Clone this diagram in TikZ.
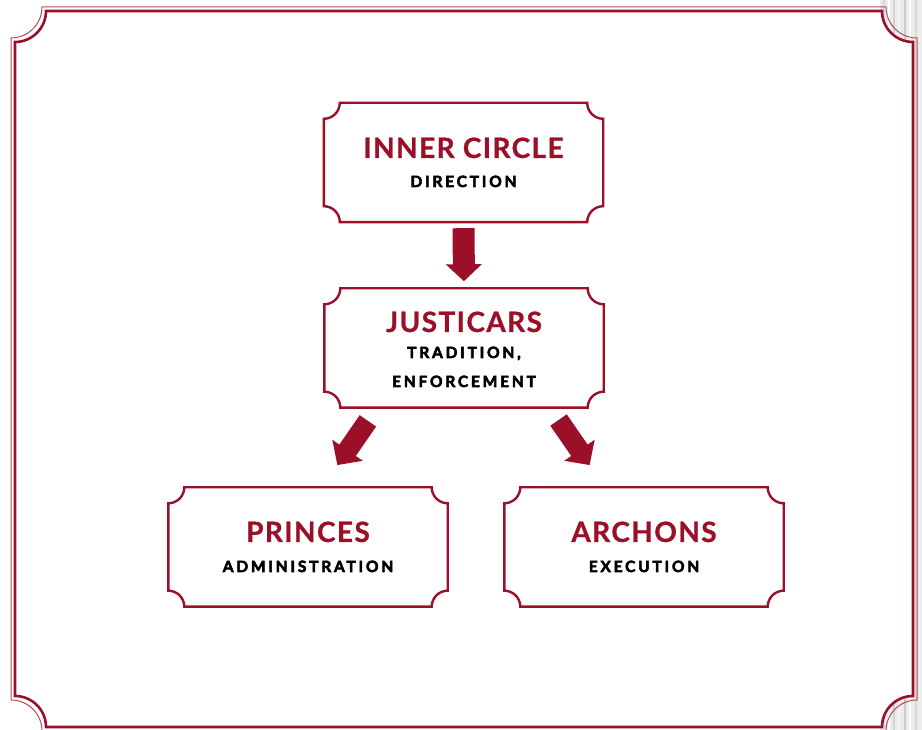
\documentclass[tikz,border=0pt]{standalone}
\usepackage{fontspec}
\setmainfont{Lato}
\newfontfamily\subfnt[LetterSpace=18,FakeBold=3.5]{Lato}
\newfontfamily\ttlfnt[LetterSpace=5,FakeBold=0.8]{Lato}
\usetikzlibrary{arrows.meta,calc}
\definecolor{vred}{HTML}{9B1028}
\tikzset{
  ticket/.style={minimum width=279pt, minimum height=119pt, inner sep=0pt, draw=none},
  boxline/.style={draw=vred, line width=2.4pt, fill=white},
  ttl/.style={anchor=base, text=vred, font=\ttlfnt\fontsize{28}{30}\selectfont\bfseries},
  subt/.style={anchor=base, text=black, font=\subfnt\fontsize{15.5}{16}\selectfont\bfseries},
  bigarrow/.style={draw=vred, line width=21pt, -{Triangle[length=17pt,width=36pt]}},
  framethick/.style={draw=vred, line width=2.6pt, fill=white},
  framethin/.style={draw=vred!75, line width=1pt},
}
\newcommand\ticketborder[1]{%
  \draw[boxline] ([xshift=16pt]#1.north west) -- ([xshift=-16pt]#1.north east)
    arc[start angle=180,end angle=270,radius=16pt]
    -- ([yshift=16pt]#1.south east)
    arc[start angle=90,end angle=180,radius=16pt]
    -- ([xshift=16pt]#1.south west)
    arc[start angle=0,end angle=90,radius=16pt]
    -- ([yshift=-16pt]#1.north west)
    arc[start angle=270,end angle=360,radius=16pt] -- cycle;}
\newcommand\scallopframe[6]{%
  \draw[#1] (#2+#6,#5) -- (#4-#6,#5)
    arc[start angle=180,end angle=270,radius=#6 pt]
    -- (#4,#3+#6)
    arc[start angle=90,end angle=180,radius=#6 pt]
    -- (#2+#6,#3)
    arc[start angle=0,end angle=90,radius=#6 pt]
    -- (#2,#5-#6)
    arc[start angle=270,end angle=360,radius=#6 pt] -- cycle;}
\begin{document}
\begin{tikzpicture}[x=1pt,y=1pt]
\useasboundingbox (0,0) rectangle (922,730);
% marble strip at the right
\fill[gray!16] (880,0) rectangle (922,730);
\foreach \xx/\cc in {884/gray!30,889/white,894/gray!35,899/gray!10,905/gray!40,910/white,916/gray!30,920/gray!12}
  \draw[\cc, line width=1.5pt] (\xx,0) -- (\xx,730);
% frame
\scallopframe{framethin}{11}{-1}{917}{723}{31}
\scallopframe{framethick}{15}{3}{913}{719}{31}
% boxes
\node[ticket] (ic) at (463.5,567.5) {};
\ticketborder{ic}
\node[ttl] (ict) at ($(ic.center)+(0,4.5)$) {INNER CIRCLE};
\node[subt] (ics) at ($(ic.center)+(0,-24.5)$) {DIRECTION};

\node[ticket] (jus) at (464,382) {};
\ticketborder{jus}
\node[ttl] (jt) at ($(jus.center)+(0,16)$) {JUSTICARS};
\node[subt] (js1) at ($(jus.center)+(0,-10)$) {TRADITION,};
\node[subt] (js2) at ($(jus.center)+(0,-39)$) {ENFORCEMENT};

\node[ticket] (pr) at (308,183) {};
\ticketborder{pr}
\node[ttl] (pt) at ($(pr.center)+(0,5)$) {PRINCES};
\node[subt] (ps) at ($(pr.center)+(0,-25)$) {ADMINISTRATION};

\node[ticket] (ar) at (644,183) {};
\ticketborder{ar}
\node[ttl] (at) at ($(ar.center)+(0,5)$) {ARCHONS};
\node[subt] (as) at ($(ar.center)+(0,-25)$) {EXECUTION};

% arrows
\draw[bigarrow, line width=22pt, -{Triangle[length=17pt,width=35pt]}, shorten <=6pt, shorten >=7pt] (ic.south) -- (jus.north);
\coordinate (jl) at ($(jus.south)+(-87,0)$);
\coordinate (pl) at ($(pr.north)+(14,0)$);
\coordinate (jr) at ($(jus.south)+(86,0)$);
\coordinate (arl) at ($(ar.north)+(-39,0)$);
\draw[bigarrow, line width=20pt, -{Triangle[length=18pt,width=36pt]}, shorten <=16pt, shorten >=27pt] (jl) -- (pl);
\draw[bigarrow, line width=20pt, -{Triangle[length=18pt,width=36pt]}, shorten <=15pt, shorten >=27pt] (jr) -- (arl);
\end{tikzpicture}
\end{document}
